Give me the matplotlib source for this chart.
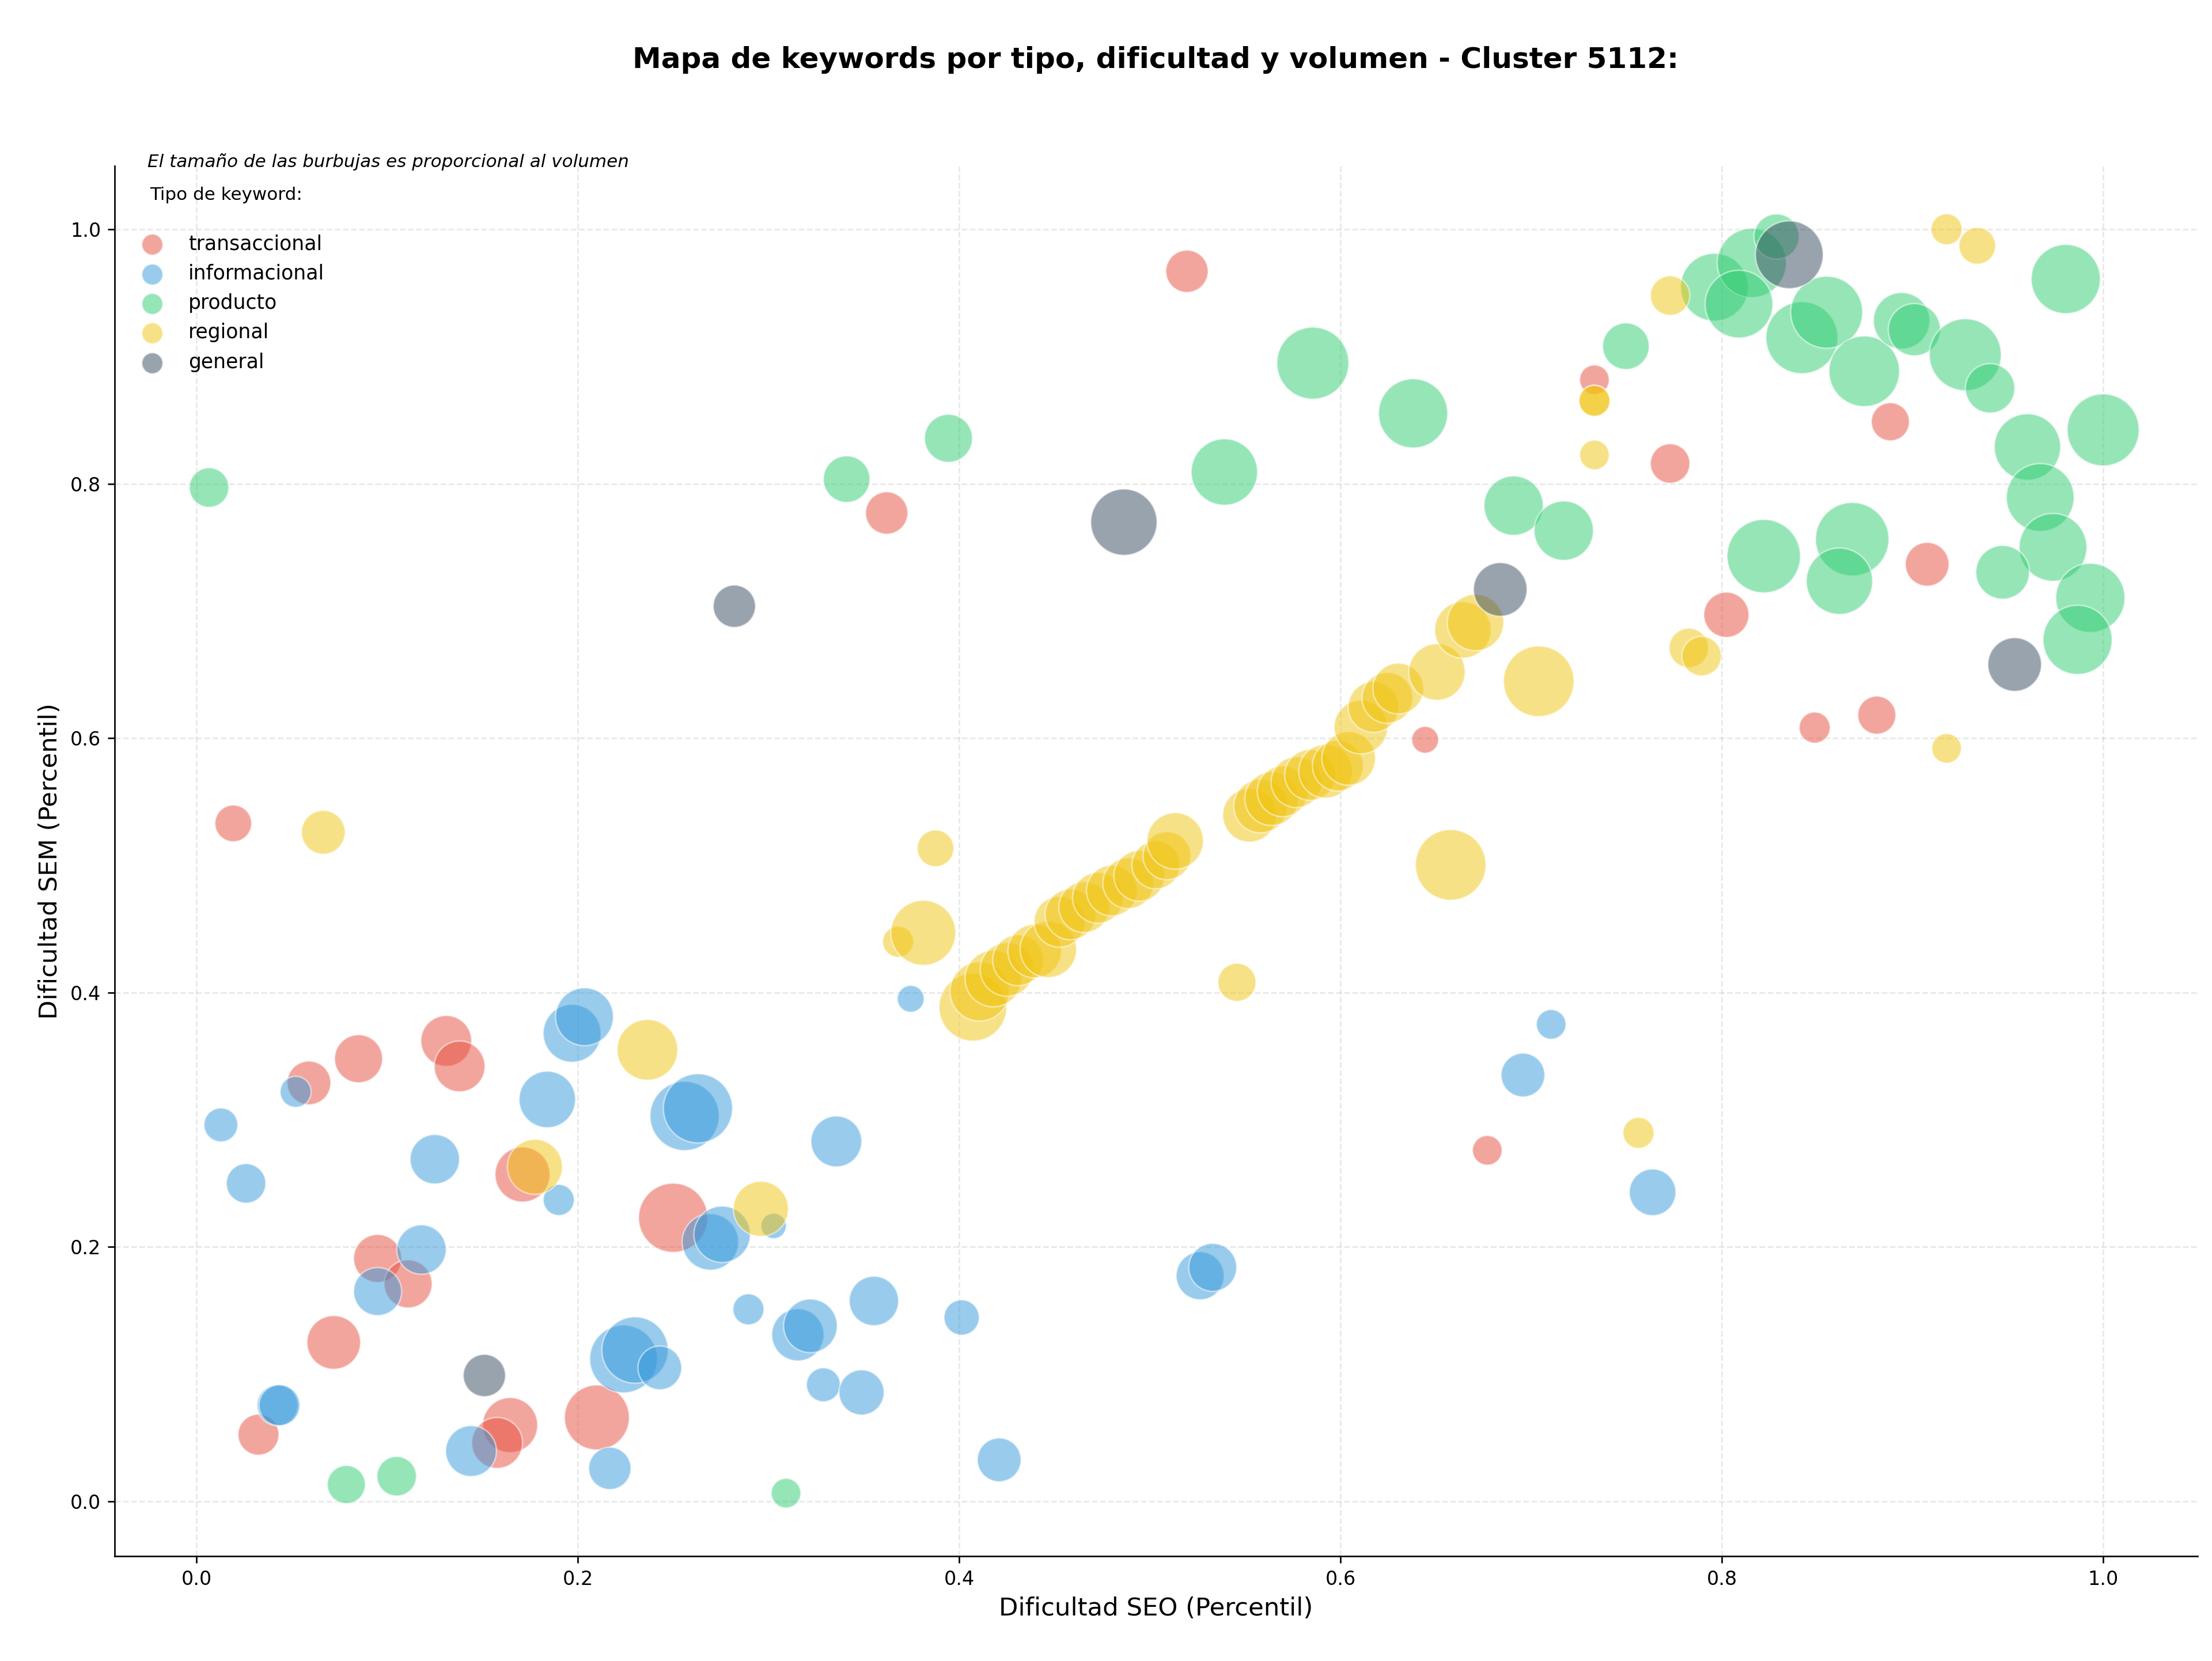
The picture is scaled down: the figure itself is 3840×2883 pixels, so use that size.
import numpy as np
from matplotlib import pyplot as plt

# Datos: dificultad SEO (x), dificultad SEM (y), volumen
trans_seo = [0.5195, 0.362, 0.0193, 0.059, 0.085, 0.131, 0.138, 0.171, 0.250, 0.095,
             0.111, 0.072, 0.0325, 0.1645, 0.1577, 0.210, 0.6444, 0.677, 0.7332, 0.7729,
             0.8884, 0.8024, 0.9077, 0.8487, 0.8813]
trans_sem = [0.967, 0.777, 0.533, 0.329, 0.348, 0.362, 0.342, 0.257, 0.223, 0.191,
             0.171, 0.125, 0.0525, 0.060, 0.046, 0.066, 0.5987, 0.276, 0.8817, 0.8159,
             0.8487, 0.697, 0.7367, 0.6083, 0.6181]
trans_vol = [900, 900, 676, 961, 1156, 1296, 1296, 1521, 2401, 1156,
             1156, 1444, 841, 1521, 1296, 2116, 361, 441, 441, 784,
             729, 1024, 961, 484, 729]

info_seo = [0.0128, 0.026, 0.052, 0.125, 0.184, 0.197, 0.2035, 0.256, 0.263, 0.190,
            0.2695, 0.2757, 0.118, 0.095, 0.0425, 0.0435, 0.144, 0.2168, 0.224, 0.230,
            0.243, 0.2895, 0.3027, 0.3356, 0.3154, 0.322, 0.3553, 0.3288, 0.3488, 0.4013,
            0.421, 0.5264, 0.533, 0.3746, 0.6957, 0.7105, 0.7637]
info_sem = [0.296, 0.250, 0.322, 0.269, 0.316, 0.368, 0.381, 0.303, 0.309, 0.237,
            0.204, 0.210, 0.198, 0.165, 0.0756, 0.0756, 0.0396, 0.026, 0.112, 0.119,
            0.105, 0.151, 0.2166, 0.283, 0.131, 0.138, 0.1576, 0.0917, 0.0857, 0.1446,
            0.0327, 0.1774, 0.184, 0.3951, 0.3352, 0.375, 0.243]
info_vol = [576, 784, 484, 1225, 1600, 1681, 1681, 2401, 2401, 484,
            1600, 1600, 1225, 1156, 841, 841, 1296, 900, 2304, 2209,
            961, 484, 324, 1296, 1369, 1444, 1225, 576, 1024, 625,
            961, 1156, 1156, 361, 961, 441, 1089]

prod_seo = [0.0066, 0.0786, 0.105, 0.3092, 0.341, 0.3944, 0.5391, 0.5855, 0.6381, 0.6908,
            0.7171, 0.7497, 0.7961, 0.8157, 0.8287, 0.809, 0.842, 0.855, 0.8747, 0.8943,
            0.901, 0.9277, 0.9407, 0.9804, 0.9603, 1.0, 0.967, 0.9737, 0.9933, 0.9866,
            0.9473, 0.822, 0.8684, 0.8617]
prod_sem = [0.797, 0.0133, 0.0198, 0.0065, 0.8036, 0.8357, 0.8092, 0.8948, 0.8553, 0.7828,
            0.7631, 0.9081, 0.9545, 0.9736, 0.9943, 0.9412, 0.9148, 0.9348, 0.8884, 0.9281,
            0.9211, 0.9014, 0.875, 0.9609, 0.8289, 0.8423, 0.7892, 0.75, 0.7103, 0.6773,
            0.7304, 0.7431, 0.7564, 0.7234]
prod_vol = [784, 729, 784, 441, 1089, 1156, 2209, 2601, 2401, 1764,
            1764, 1089, 2304, 2401, 1024, 2304, 2601, 2601, 2500, 1600,
            1369, 2601, 1225, 2401, 2209, 2601, 2304, 2304, 2401, 2401,
            1444, 2704, 2704, 2209]

reg_seo = [0.0665, 0.2365, 0.1775, 0.296, 0.368, 0.3812, 0.3876, 0.5457, 0.6578, 0.704,
           0.7332, 0.7332, 0.7332, 0.7729, 0.9179, 0.934, 0.7827, 0.7894, 0.9179, 0.7563,
           0.4072, 0.4107, 0.4179, 0.4251, 0.4309, 0.4396, 0.4468, 0.4526, 0.4584, 0.4656,
           0.4728, 0.4801, 0.4887, 0.4945, 0.5032, 0.509, 0.5133,
           0.5523, 0.5581, 0.5639, 0.5697, 0.5769, 0.5841, 0.5922, 0.5986, 0.6043, 0.6107,
           0.6173, 0.6246, 0.6303, 0.6506, 0.6642, 0.6708]
reg_sem = [0.526, 0.355, 0.263, 0.230, 0.440, 0.447, 0.5134, 0.4081, 0.5004, 0.6447,
           0.8652, 0.8652, 0.8226, 0.9479, 1.0, 0.987, 0.6709, 0.6645, 0.592, 0.2897,
           0.3885, 0.4009, 0.411, 0.4182, 0.4254, 0.4326, 0.434, 0.4557, 0.4615, 0.4672,
           0.4745, 0.4802, 0.486, 0.4918, 0.5004, 0.5076, 0.5192,
           0.5394, 0.5466, 0.5524, 0.5582, 0.5654, 0.5711, 0.574, 0.5784, 0.5841, 0.6087,
           0.6245, 0.6317, 0.639, 0.652, 0.6851, 0.6909]
reg_vol = [961, 1849, 1521, 1521, 484, 2116, 676, 729, 2500, 2500,
           484, 484, 441, 784, 484, 676, 784, 784, 441, 484,
           2304, 1764, 1600, 1444, 1296, 1444, 1600, 1296, 1296, 1296,
           1296, 1296, 1296, 1296, 1156, 1156, 1600,
           1444, 1444, 1444, 1296, 1296, 1296, 1444, 1296, 1444, 1444,
           1296, 1296, 1296, 1600, 1600, 1600]

gen_seo = [0.4864, 0.2821, 0.151, 0.6838, 0.8354, 0.9536]
gen_sem = [0.7698, 0.7037, 0.099, 0.7169, 0.98, 0.6579]
gen_vol = [2209, 900, 900, 1444, 2304, 1444]

tipos = ['transaccional', 'informacional', 'producto', 'regional', 'general']
colores = ['#e74c3c', '#3498db', '#2ecc71', '#f1c40f', '#34495e']
series = [(trans_seo, trans_sem, trans_vol),
          (info_seo, info_sem, info_vol),
          (prod_seo, prod_sem, prod_vol),
          (reg_seo, reg_sem, reg_vol),
          (gen_seo, gen_sem, gen_vol)]

fig = plt.figure(figsize=(16, 12.0125), dpi=240)
ax = fig.add_axes([0.0517, 0.063, 0.9419, 0.837])

for (xs, ys, vol), color in zip(series, colores):
    ax.scatter(xs, ys, s=np.array(vol) * 0.54, color=color, alpha=0.5,
               edgecolors='white', linewidths=0.8)

# handles para la leyenda
handles = []
for tipo, color in zip(tipos, colores):
    handles.append(ax.scatter([], [], s=120, color=color, alpha=0.5,
                              edgecolors='white', linewidths=0.8, label=tipo))

ax.grid(True, linestyle='--', alpha=0.3)
ax.set_axisbelow(True)
ax.spines['top'].set_visible(False)
ax.spines['right'].set_visible(False)

ax.set_xlabel('Dificultad SEO (Percentil)', fontsize=13)
ax.set_ylabel('Dificultad SEM (Percentil)', fontsize=13)

ax.text(0.016, 1.003, 'El tamaño de las burbujas es proporcional al volumen',
        transform=ax.transAxes, fontsize=9.3, style='italic', va='center')
ax.text(0.017, 0.979, 'Tipo de keyword:', transform=ax.transAxes,
        fontsize=9.3, va='center')
ax.legend(handles=handles, loc='upper left', bbox_to_anchor=(0.0, 0.964),
          frameon=False, fontsize=10.4)

fig.suptitle('Mapa de keywords por tipo, dificultad y volumen - Cluster 5112:',
             fontsize=15, fontweight='bold', x=0.5225, y=0.964, va='center')

plt.savefig('out.png', dpi=240)
